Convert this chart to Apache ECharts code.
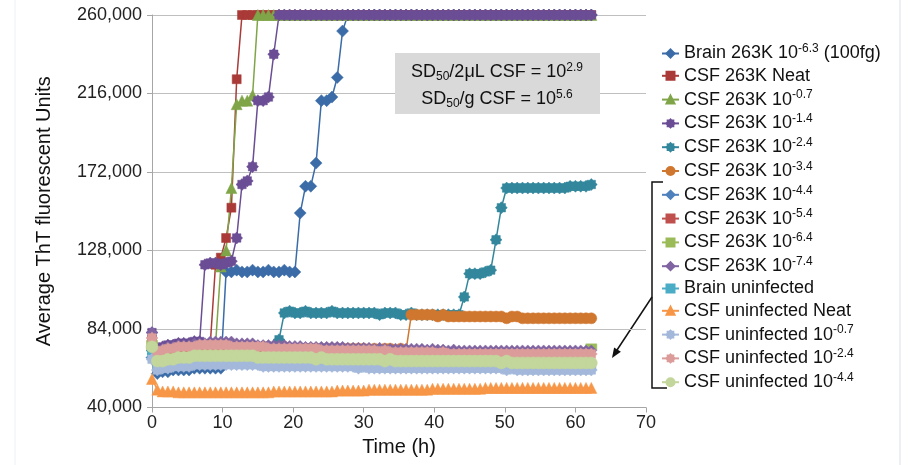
<!DOCTYPE html>
<html><head><meta charset="utf-8">
<script src="https://cdn.jsdelivr.net/npm/echarts@6/dist/echarts.min.js"></script>
<style>html,body{margin:0;padding:0;background:#fff}#c{width:917px;height:465px}</style>
</head><body><div id="c"></div>
<script>
// Sampling times (h)
const times = [0,0.75,1.5,2.25,3,3.75,4.5,5.25,6,6.75,7.5,8.25,
9,9.75,10.5,11.25,12,12.75,13.5,14.25,15,15.75,16.5,17.25,
18,18.75,19.5,20.25,21,21.75,22.5,23.25,24,24.75,25.5,26.25,
27,27.75,28.5,29.25,30,30.75,31.5,32.25,33,33.75,34.5,35.25,
36,36.75,37.5,38.25,39,39.75,40.5,41.25,42,42.75,43.5,44.25,
45,45.75,46.5,47.25,48,48.75,49.5,50.25,51,51.75,52.5,53.25,
54,54.75,55.5,56.25,57,57.75,58.5,59.25,60,60.75,61.5,62.25];

// Values in thousands of ThT fluorescent units
const brain263K = [68,59,60,60,61,61,61,61,62,62,62,62,
62,62,116,116,117,116,116,117,116,116,117,116,
116,117,116,116,149,164,164,177,212,212,214,225,
251,260,260,260,260,260,260,260,260,260,260,260,
260,260,260,260,260,260,260,260,260,260,260,260,
260,260,260,260,260,260,260,260,260,260,260,260,
260,260,260,260,260,260,260,260,260,260,260,260];
const csfNeat = [78,70,71,72,72,73,73,73,74,74,74,75,
120,124,135,152,224,260,260,260,260,260,260,260,
260,260,260,260,260,260,260,260,260,260,260,260,
260,260,260,260,260,260,260,260,260,260,260,260,
260,260,260,260,260,260,260,260,260,260,260,260,
260,260,260,260,260,260,260,260,260,260,260,260,
260,260,260,260,260,260,260,260,260,260,260,260];
const csf07 = [76,70,71,72,72,73,73,74,74,74,75,75,
75,119,128,163,210,212,212,215,260,260,260,260,
260,260,260,260,260,260,260,260,260,260,260,260,
260,260,260,260,260,260,260,260,260,260,260,260,
260,260,260,260,260,260,260,260,260,260,260,260,
260,260,260,260,260,260,260,260,260,260,260,260,
260,260,260,260,260,260,260,260,260,260,260,260];
const csf14 = [82,73,74,75,75,76,76,76,77,77,120,121,
121,120,121,122,135,165,167,175,212,212,214,238,
260,260,260,260,260,260,260,260,260,260,260,260,
260,260,260,260,260,260,260,260,260,260,260,260,
260,260,260,260,260,260,260,260,260,260,260,260,
260,260,260,260,260,260,260,260,260,260,260,260,
260,260,260,260,260,260,260,260,260,260,260,260];
const csf24 = [72,69,70,71,72,72,73,73,73,74,74,74,
74,74,74,74,74,74,74,74,74,74,74,74,
78,93,94,93,93,94,93,93,93,93,94,93,
93,93,93,93,93,93,93,92,93,93,93,92,
92,93,92,92,92,92,92,92,92,92,92,102,
115,115,115,116,117,134,152,163,163,163,163,163,
163,163,163,163,163,163,163,164,164,164,164,165];
const csf34 = [74,69,70,71,72,72,72,73,73,73,73,74,
74,74,74,74,74,74,73,74,73,74,74,73,
73,74,73,73,73,73,73,73,73,73,73,73,
73,73,73,73,73,72,73,72,73,73,72,73,
72,92,92,92,92,92,91,92,91,91,91,91,
91,91,91,91,91,91,91,90,91,91,90,90,
90,90,90,90,90,90,90,90,90,90,90,90];
const csf44 = [70,64,65,66,66,67,67,67,68,68,68,68,
69,69,69,69,69,69,69,68,68,68,68,68,
68,68,68,68,67,68,67,67,67,67,67,67,
67,67,67,66,67,66,66,66,66,66,66,66,
66,66,66,66,65,66,65,65,65,65,65,65,
65,65,65,65,65,64,65,64,64,64,64,64,
64,64,64,64,64,64,64,64,63,64,63,64];
const csf54 = [77,70,71,72,72,73,73,73,74,74,74,74,
74,74,74,74,74,74,74,73,73,73,73,73,
73,73,73,73,73,72,72,72,72,72,72,72,
72,72,72,72,71,72,71,71,71,71,71,71,
71,71,71,71,71,70,71,70,70,70,70,70,
70,70,70,70,70,70,69,70,69,69,69,69,
69,69,69,69,69,69,69,69,69,69,69,70];
const csf64 = [76,71,72,73,73,74,74,74,75,75,75,75,
75,75,75,75,75,75,75,74,74,74,74,74,
74,74,74,74,74,74,73,73,73,73,73,73,
73,73,73,73,73,73,72,73,72,72,72,72,
72,72,72,72,72,72,72,71,72,71,71,71,
71,71,71,71,71,71,71,71,71,71,71,71,
71,71,71,71,71,71,71,71,71,71,72,74];
const csf74 = [82,72,73,74,74,75,75,75,76,76,76,77,
77,77,77,77,76,76,76,76,75,75,75,75,
75,75,74.5,74.5,74.5,74,74,74,74,74,74,74,
74,73.5,73.5,73.5,73.5,73.5,73,73.5,73,73,73,73,
73,73,73,73,72.5,73,72.5,72.5,72,72.5,72,72,
72,72,72,72,72,72,72,72,72,72,72,72,
72,72,72,72,72,72,72,72,72,72,72,72];
const brainUninf = [70,64,65,65,66,66,66,66,67,67,67,67,
67,67,67,67,67,67,67,67,67,67,66,66,
66,66,66,66,66,66,66,66,66,65,66,65,
65,65,65,65,65,65,65,65,65,65,65,65,
65,65,65,64,65,64,64,64,64,64,64,64,
64,64,64,64,64,64,64,64,64,64,64,64,
64,64,64,64,64,64,64,63,64,63,63,63];
const uninfNeat = [56,50,49,49,49,48.5,48.5,48.5,48.5,48.5,48.5,48.5,
48.5,48.5,48.5,48.5,48.5,48.5,48.5,48.5,48.5,48.5,48.5,49,
49,49,49,49,49,49,49,49,49,49,49,49.5,
49.5,49.5,49.5,49.5,49.5,50,50,50,50,50,50,50,
50,50,50,50,50,50.5,50.5,50.5,50.5,50.5,50.5,50.5,
50.5,50.5,50.5,51,51,51,51,51,51,51,51,51,
51,51,51,51,51,51,51,51,51,51,51,51];
const uninf07 = [67,61,62,62,63,63,63,63,64,64,64,64,
64,64,64,64,64,64,64,64,64,63,63,63,
63,63,63,63,63,63,63,63,63,63,63,63,
63,63,63,62,63,62,62,62,62,62,62,62,
62,62,62,62,62,62,62,62,62,62,62,62,
62,62,62,62,62,62,62,61,62,61,61,61,
61,61,61,61,61,61,61,61,61,61,61,61];
const uninf24 = [79,71,72,73,73,74,74,74,74,75,75,75,
75,75,75,74,74,74,74,74,74,74,73,73,
73,73,73,73,73,73,73,73,72,72,72,72,
72,72,72,72,72,72,72,71,72,71,71,71,
71,71,71,71,71,71,70,71,70,70,70,70,
70,70,70,70,70,70,70,70,70,70,70,70,
70,70,70,70,70,70,70,70,70,70,70,70];
const uninf44 = [74,66,66,67,67,68,68,68,69,69,69,69,
69,69,69,69,69,69,69,69,68,68,68,68,
68,68,68,68,68,68,68,67,68,67,67,67,
67,67,67,67,67,67,67,67,66,67,66,66,
66,66,66,66,66,66,66,66,66,66,66,66,
66,66,66,66,66,66,65,66,65,65,65,65,
65,65,65,65,65,65,65,65,65,65,65,65];

// Legend labels: [text, superscript exponent, trailing text]
const labels = [
  ['Brain 263K 10','-6.3',' (100fg)'],
  ['CSF 263K Neat','',''],
  ['CSF 263K 10','-0.7',''],
  ['CSF 263K 10','-1.4',''],
  ['CSF 263K 10','-2.4',''],
  ['CSF 263K 10','-3.4',''],
  ['CSF 263K 10','-4.4',''],
  ['CSF 263K 10','-5.4',''],
  ['CSF 263K 10','-6.4',''],
  ['CSF 263K 10','-7.4',''],
  ['Brain uninfected','',''],
  ['CSF uninfected Neat','',''],
  ['CSF uninfected 10','-0.7',''],
  ['CSF uninfected 10','-2.4',''],
  ['CSF uninfected 10','-4.4','']
];

const valueSets = [brain263K, csfNeat, csf07, csf14, csf24, csf34, csf44, csf54, csf64, csf74, brainUninf, uninfNeat, uninf07, uninf24, uninf44];
const colors = ['#3B6CA8','#A93A37','#7FA548','#6A4D94','#32879C','#D0772F','#4F81BD','#C0504D','#9BBB59','#8064A2','#4BACC6','#F79646','#A3B8DA','#DB9C9A','#C3D69B'];
const star = 'path://M10,5 L8.51,6.45 L8.54,8.54 L6.45,8.51 L5,10 L3.55,8.51 L1.46,8.54 L1.49,6.45 L0,5 L1.49,3.55 L1.46,1.46 L3.55,1.49 L5,0 L6.45,1.49 L8.54,1.46 L8.51,3.55 Z';
const symbols = ['diamond','rect','triangle',star,star,'circle','diamond','rect','rect','diamond','rect','triangle',star,star,'circle'];
const sizes = [12,9,11,12,12,11,10,6,[11,6],11,9,11,12,12,12];

const names = labels.map(l => l[0] + (l[1] ? l[1] : '') + l[2]);
const series = valueSets.map((vals, k) => ({
  name: names[k], type: 'line', clip: false, showAllSymbol: true,
  data: vals.map((v, i) => [times[i], v * 1000]),
  symbol: symbols[k], symbolSize: sizes[k],
  lineStyle: {color: colors[k], width: 1.5},
  itemStyle: {color: colors[k], borderColor: colors[k], borderWidth: 0.5},
  emphasis: {disabled: true}
}));

const chart = echarts.init(document.getElementById('c'), null, {renderer: 'canvas'});
const FONT = '"Liberation Sans", Arial, sans-serif';
chart.setOption({
  animation: false,
  grid: {left: 152, top: 15, right: 271, bottom: 57.5},
  xAxis: {
    type: 'value', min: 0, max: 70, interval: 10,
    name: 'Time (h)', nameLocation: 'middle', nameGap: 25,
    nameTextStyle: {fontSize: 20, fontFamily: FONT, color: '#111'},
    axisLine: {lineStyle: {color: '#A6A6A6', width: 1}},
    axisTick: {show: true, length: 5, lineStyle: {color: '#A6A6A6'}},
    axisLabel: {fontSize: 18, fontFamily: FONT, color: '#222', margin: 7},
    splitLine: {show: false}
  },
  yAxis: {
    type: 'value', min: 40000, max: 260000, interval: 44000,
    name: 'Average ThT fluorescent Units', nameLocation: 'middle', nameGap: 98, nameRotate: 90,
    nameTextStyle: {fontSize: 20, fontFamily: FONT, color: '#111'},
    axisLine: {show: true, lineStyle: {color: '#A6A6A6', width: 1}},
    axisTick: {show: true, length: 5, lineStyle: {color: '#A6A6A6'}},
    axisLabel: {fontSize: 18, fontFamily: FONT, color: '#222', margin: 10,
      formatter: v => v.toLocaleString('en-US')},
    splitLine: {show: true, lineStyle: {color: '#BFBFBF', width: 1}}
  },
  legend: {
    orient: 'vertical', left: 656, top: 38, itemGap: 4.3,
    itemWidth: 17, itemHeight: 10,
    data: names,
    formatter: name => {
      const l = labels[names.indexOf(name)];
      return l[1] ? l[0] + '{sup|' + l[1] + '}' + l[2] : l[0];
    },
    textStyle: {fontSize: 18, fontFamily: FONT, color: '#111', lineHeight: 18,
      rich: {sup: {fontSize: 12, fontFamily: FONT, color: '#111', padding: [0, 0, 9, 0]}}}
  },
  graphic: [
    {type: 'line', shape: {x1: 15, y1: 0, x2: 15, y2: 465}, style: {stroke: '#EEF0F4', lineWidth: 1}, silent: true},
    {type: 'line', shape: {x1: 900, y1: 0, x2: 900, y2: 465}, style: {stroke: '#E6EAF0', lineWidth: 1.5}, silent: true},
    {type: 'rect', shape: {x: 395, y: 53, width: 205, height: 61}, style: {fill: '#D9D9D9'}, z: 100},
    {type: 'text', x: 497, y: 72, z: 101, style: {
      text: 'SD{sub|50}/2μL CSF = 10{sup|2.9}', align: 'center', verticalAlign: 'middle',
      fontSize: 18, fontFamily: FONT, fill: '#111',
      rich: {sub: {fontSize: 12, fontFamily: FONT, fill: '#111', padding: [9, 0, 0, 0]},
             sup: {fontSize: 12, fontFamily: FONT, fill: '#111', padding: [0, 0, 9, 0]}}}},
    {type: 'text', x: 497, y: 99, z: 101, style: {
      text: 'SD{sub|50}/g CSF = 10{sup|5.6}', align: 'center', verticalAlign: 'middle',
      fontSize: 18, fontFamily: FONT, fill: '#111',
      rich: {sub: {fontSize: 12, fontFamily: FONT, fill: '#111', padding: [9, 0, 0, 0]},
             sup: {fontSize: 12, fontFamily: FONT, fill: '#111', padding: [0, 0, 9, 0]}}}},
    {type: 'polyline', shape: {points: [[663, 182], [652, 182], [652, 388], [667, 388]]}, style: {stroke: '#111', lineWidth: 1.5, fill: null}},
    {type: 'line', shape: {x1: 652, y1: 297, x2: 617, y2: 350}, style: {stroke: '#111', lineWidth: 1.5}},
    {type: 'polygon', shape: {points: [[612, 358], [620.9, 351.8], [614.1, 347.4]]}, style: {fill: '#111'}}
  ],
  series: series
});
</script></body></html>
